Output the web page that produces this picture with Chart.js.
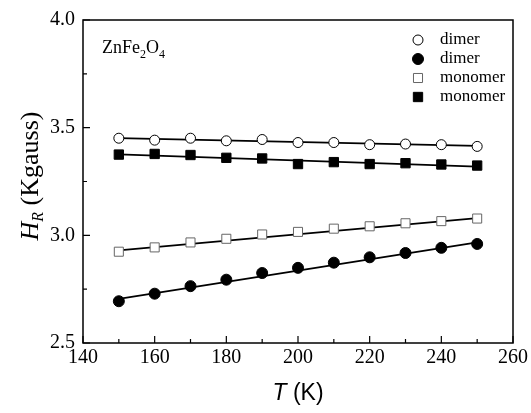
<!DOCTYPE html>
<html>
<head>
<meta charset="utf-8">
<script src="https://cdn.jsdelivr.net/npm/chart.js@4/dist/chart.umd.min.js"></script>
<style>
  html, body { margin: 0; padding: 0; background: #fff; }
  #wrap { width: 531px; height: 413px; }
</style>
</head>
<body>
<div id="wrap"><canvas id="myChart" width="531" height="413"></canvas></div>
<script>
// temperatures (K)
const temps = [150, 160, 170, 180, 190, 200, 210, 220, 230, 240, 250]

// H_R values (Kgauss)
const dimerOpen = [3.451, 3.442, 3.451, 3.439, 3.445, 3.431, 3.431, 3.421, 3.424, 3.421, 3.413]
const monomerFilled = [3.375, 3.378, 3.373, 3.360, 3.357, 3.331, 3.340, 3.331, 3.335, 3.329, 3.324]
const monomerOpen = [2.924, 2.944, 2.967, 2.984, 3.004, 3.016, 3.031, 3.042, 3.056, 3.066, 3.078]
const dimerFilled = [2.694, 2.729, 2.764, 2.794, 2.825, 2.849, 2.873, 2.898, 2.918, 2.942, 2.960]

// fitted straight lines, value at first and last temperature
const fitT = [150, 250]
const fitDimerOpen = [3.451, 3.415]
const fitMonomerFilled = [3.376, 3.319]
const fitMonomerOpen = [2.930, 3.080]
const fitDimerFilled = [2.705, 2.967]

const xTicks = [140, 160, 180, 200, 220, 240, 260]
const yTicks = [2.5, 3.0, 3.5, 4.0]
const legendLabels = ['dimer', 'dimer', 'monomer', 'monomer']

const SERIF = '"Liberation Serif", "Times New Roman", serif'
const SANS = '"Liberation Sans", Arial, sans-serif'

const toPoints = (xs, ys) => xs.map((x, i) => ({ x: x, y: ys[i] }))

const markerSets = [
    { label: legendLabels[0], data: dimerOpen, style: 'circle', radius: 5, fill: '#fff', border: '#000' },
    { label: legendLabels[1], data: dimerFilled, style: 'circle', radius: 5.5, fill: '#000', border: '#000' },
    { label: legendLabels[2], data: monomerOpen, style: 'rect', radius: 6.4, fill: '#fff', border: '#666' },
    { label: legendLabels[3], data: monomerFilled, style: 'rect', radius: 6.6, fill: '#000', border: '#000' }
]
const fits = [fitDimerOpen, fitDimerFilled, fitMonomerOpen, fitMonomerFilled]

let datasets = []
fits.forEach(f => {
    datasets.push({
        type: 'line',
        data: toPoints(fitT, f),
        borderColor: '#000',
        borderWidth: 1.8,
        pointRadius: 0,
        fill: false,
        order: 2
    })
})
markerSets.forEach(s => {
    datasets.push({
        type: 'scatter',
        label: s.label,
        data: toPoints(temps, s.data),
        pointStyle: s.style,
        pointRadius: s.radius,
        pointHoverRadius: s.radius,
        pointBackgroundColor: s.fill,
        pointBorderColor: s.border,
        pointBorderWidth: 1,
        order: 1
    })
})

// draws the text pieces one after another, [text, font, yShift]
const drawParts = (ctx, parts, x, y) => {
    parts.forEach(p => {
        ctx.font = p[1] + ' ' + p[3]
        ctx.fillText(p[0], x, y + p[2])
        x += ctx.measureText(p[0]).width
    })
}
const partsWidth = (ctx, parts) => {
    let w = 0
    parts.forEach(p => {
        ctx.font = p[1] + ' ' + p[3]
        w += ctx.measureText(p[0]).width
    })
    return w
}

const frame = {
    id: 'frame',
    afterDraw(chart) {
        const ctx = chart.ctx
        const a = chart.chartArea
        const xs = chart.scales.x
        const ys = chart.scales.y
        ctx.save()
        ctx.strokeStyle = '#000'
        ctx.lineWidth = 1.5
        ctx.strokeRect(a.left, a.top, a.right - a.left, a.bottom - a.top)

        // inward ticks, major and minor
        ctx.lineWidth = 1.2
        ctx.beginPath()
        for (let v = 140; v <= 260; v += 10) {
            const px = xs.getPixelForValue(v)
            const len = v % 20 === 0 ? 7 : 4
            ctx.moveTo(px, a.bottom)
            ctx.lineTo(px, a.bottom - len)
        }
        for (let v = 2.5; v <= 4.001; v += 0.25) {
            const py = ys.getPixelForValue(v)
            const len = Math.abs(v * 2 - Math.round(v * 2)) < 0.01 ? 7 : 4
            ctx.moveTo(a.left, py)
            ctx.lineTo(a.left + len, py)
        }
        ctx.stroke()

        // compound label
        ctx.fillStyle = '#000'
        ctx.textBaseline = 'alphabetic'
        ctx.textAlign = 'left'
        drawParts(ctx, [['ZnFe', '18px', 0, SERIF], ['2', '12px', 5, SERIF], ['O', '18px', 0, SERIF], ['4', '12px', 5, SERIF]], a.left + 19, 53)

        // legend
        const rows = [40, 59, 78, 97]
        markerSets.forEach((s, i) => {
            const cy = rows[i]
            const cx = 418
            ctx.lineWidth = 1
            ctx.strokeStyle = s.border
            ctx.fillStyle = s.fill
            ctx.beginPath()
            if (s.style === 'circle') {
                ctx.arc(cx, cy, s.radius, 0, Math.PI * 2)
            } else {
                const h = s.radius * Math.SQRT1_2
                ctx.rect(cx - h, cy - h, 2 * h, 2 * h)
            }
            ctx.fill()
            ctx.stroke()
            ctx.fillStyle = '#000'
            ctx.font = '17px ' + SERIF
            ctx.textBaseline = 'middle'
            ctx.fillText(s.label, 440, cy)
        })

        // y axis title: H_R (Kgauss)
        ctx.textBaseline = 'alphabetic'
        const yParts = [['H', 'italic 26px', 0, SERIF], ['R', 'italic 16px', 5, SERIF], [' (Kgauss)', '26px', 0, SERIF]]
        ctx.save()
        ctx.translate(31, 176)
        ctx.rotate(-Math.PI / 2)
        drawParts(ctx, yParts, -partsWidth(ctx, yParts) / 2, 7)
        ctx.restore()

        // x axis title: T (K)
        const xParts = [['T', 'italic 23px', 0, SANS], [' (K)', '23px', 0, SANS]]
        drawParts(ctx, xParts, (a.left + a.right) / 2 - partsWidth(ctx, xParts) / 2, 400)
        ctx.restore()
    }
}

const tickFont = { family: SERIF, size: 20 }

new Chart(document.getElementById('myChart'), {
    type: 'scatter',
    data: { datasets: datasets },
    options: {
        responsive: false,
        animation: false,
        events: [],
        layout: { padding: { top: 15, right: 16, left: 0, bottom: 0 } },
        plugins: {
            legend: { display: false },
            tooltip: { enabled: false }
        },
        scales: {
            x: {
                type: 'linear',
                min: xTicks[0],
                max: xTicks[xTicks.length - 1],
                afterBuildTicks: axis => { axis.ticks = xTicks.map(v => ({ value: v })) },
                afterFit: axis => { axis.height = 70 },
                grid: { display: false, drawTicks: false },
                border: { display: false },
                ticks: { color: '#000', font: tickFont, padding: 3, maxRotation: 0 }
            },
            y: {
                type: 'linear',
                min: yTicks[0],
                max: yTicks[yTicks.length - 1],
                afterBuildTicks: axis => { axis.ticks = yTicks.map(v => ({ value: v })) },
                afterFit: axis => { axis.width = 83 },
                grid: { display: false, drawTicks: false },
                border: { display: false },
                ticks: { color: '#000', font: tickFont, padding: 8, callback: v => v.toFixed(1) }
            }
        }
    },
    plugins: [frame]
})
</script>
</body>
</html>
